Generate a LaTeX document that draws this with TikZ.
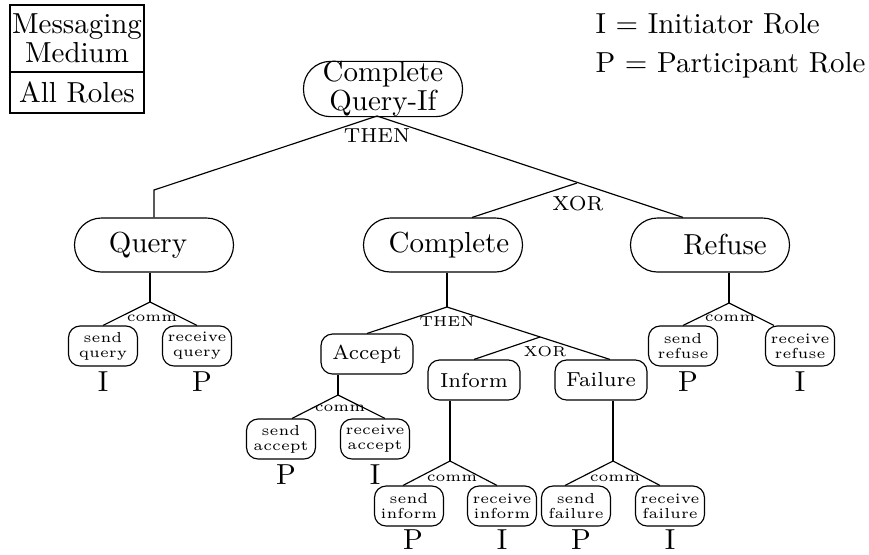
\documentclass[tikz,border=0pt]{standalone}
\newcommand\pxu{0.3453pt}
\tikzset{
  big/.style={draw, rounded corners=9.3pt, minimum width=159*\pxu, minimum height=54*\pxu,
    inner sep=0pt, align=center, font=\fontsize{10}{8.5}\selectfont},
  mid/.style={draw, rounded corners=4pt, minimum width=92*\pxu, minimum height=40*\pxu,
    inner sep=0pt, font=\scriptsize},
  leaf/.style={draw, rounded corners=4pt, minimum width=69*\pxu, minimum height=40*\pxu,
    inner sep=0pt, align=center, font=\fontsize{5}{5.2}\selectfont},
  role/.style={font=\normalsize, inner sep=0pt},
  oplabel/.style={font=\scriptsize, inner sep=0pt},
  sublabel/.style={font=\tiny, inner sep=0pt},
  legendbox/.style={draw, minimum width=134*\pxu, inner sep=0pt, align=center,
    font=\fontsize{10}{8.6}\selectfont},
}
\begin{document}
\begin{tikzpicture}[x=0.3453pt, y=-0.3453pt]
\useasboundingbox (0,0) rectangle (869,554);

% legend
\node[legendbox, minimum height=67*\pxu] (medium) at (77,38.5) {Messaging\\Medium};
\node[legendbox, minimum height=41*\pxu] (allroles) at (77,92.5) {All Roles};
\node[anchor=base west, inner sep=0pt] (keyI) at (595,33) {I = Initiator Role};
\node[anchor=base west, inner sep=0pt] (keyP) at (595,72) {P = Participant Role};

% main nodes
\node[big] (root) at (383,89) {Complete\\Query-If};
\node[big] (query) at (154,245) {Query\hspace*{4.1pt}};
\node[big] (complete) at (443,245) {\hspace*{4.1pt}Complete};
\node[big] (refuse) at (710,245) {\hspace*{10.4pt}Refuse};

\node[mid] (accept) at (367,354) {Accept};
\node[mid] (inform) at (474,380) {Inform};
\node[mid] (failure) at (601,380) {Failure};

% leaves
\node[leaf] (sq) at (103,346) {send\\query};
\node[leaf] (rq) at (197,346) {receive\\query};
\node[leaf] (sr) at (683,346) {send\\refuse};
\node[leaf] (rr) at (800,346) {receive\\refuse};
\node[leaf] (sa) at (281,439) {send\\accept};
\node[leaf] (ra) at (375,439) {receive\\accept};
\node[leaf] (si) at (409,506) {send\\inform};
\node[leaf] (ri) at (502,506) {receive\\inform};
\node[leaf] (sf) at (576,506) {send\\failure};
\node[leaf] (rf) at (670,506) {receive\\failure};

% roles
\node[role] (rsq) at (103,382) {I};
\node[role] (rrq) at (202,382) {P};
\node[role] (rsr) at (688,382) {P};
\node[role] (rrr) at (800,382) {I};
\node[role] (rsa) at (286,475) {P};
\node[role] (rra) at (375,475) {I};
\node[role] (rsi) at (413,540) {P};
\node[role] (rri) at (502,540) {I};
\node[role] (rsf) at (581,540) {P};
\node[role] (rrf) at (670,540) {I};

% top level
\coordinate (j0) at (377,116);
\coordinate (qbend) at (154,190);
\coordinate (jx) at (577,183);
\draw (j0) -- (qbend) -- (query.north);
\draw (j0) -- ([xshift=-27*\pxu]refuse.north);
\draw (jx) -- ([xshift=29*\pxu]complete.north);
\node[oplabel] (then0) at (377,136) {THEN};
\node[oplabel] (xor0) at (578,204) {XOR};

% query
\coordinate (jq) at (150,302);
\draw ([xshift=-4*\pxu]query.south) -- (jq);
\draw (sq.north) -- (jq) -- (rq.north);
\node[sublabel] (commq) at (152,318) {comm};

% complete
\coordinate (jc) at (447,307);
\coordinate (jci) at (540,337);
\draw ([xshift=4*\pxu]complete.south) -- (jc);
\draw (accept.north) -- (jc) -- ([xshift=9*\pxu]failure.north);
\draw (jci) -- (inform.north);
\node[sublabel] (then1) at (447,322) {THEN};
\node[sublabel] (xor1) at (545,352) {XOR};

% accept
\coordinate (ja) at (338,395);
\draw ([xshift=-29*\pxu]accept.south) -- (ja);
\draw ([xshift=11*\pxu]sa.north) -- (ja) -- ([xshift=10*\pxu]ra.north);
\node[sublabel] (comma) at (340,408) {comm};

% inform
\coordinate (ji) at (450,461);
\draw ([xshift=-24*\pxu]inform.south) -- (ji);
\draw ([xshift=-6*\pxu]si.north) -- (ji) -- ([xshift=-5*\pxu]ri.north);
\node[sublabel] (commi) at (452,478) {comm};

% failure
\coordinate (jf) at (613,461);
\draw ([xshift=12*\pxu]failure.south) -- (jf);
\draw ([xshift=-11*\pxu]sf.north) -- (jf) -- ([xshift=-10*\pxu]rf.north);
\node[sublabel] (commf) at (615,478) {comm};

% refuse
\coordinate (jr) at (729,303);
\draw ([xshift=19*\pxu]refuse.south) -- (jr);
\draw (sr.north) -- (jr) -- ([xshift=-26*\pxu]rr.north);
\node[sublabel] (commr) at (730,318) {comm};
\end{tikzpicture}
\end{document}
